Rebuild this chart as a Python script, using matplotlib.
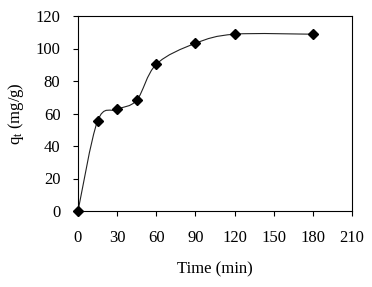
"""Adsorption kinetics: q_t vs time"""
import numpy as np, matplotlib
matplotlib.use('Agg')
import matplotlib.pyplot as plt
from matplotlib.path import Path
from matplotlib.patches import PathPatch

plt.rcParams.update({'font.family': 'Liberation Serif', 'font.size': 12,
                     'axes.linewidth': 0.8, 'mathtext.fontset': 'custom',
                     'mathtext.rm': 'Liberation Serif', 'mathtext.it': 'Liberation Serif'})

time_min = [0, 15, 30, 45, 60, 90, 120, 180]
qt = [0, 55.4, 62.5, 68.2, 90.3, 103.2, 108.8, 108.8]
x_ticks = [0, 30, 60, 90, 120, 150, 180, 210]
y_ticks = [0, 20, 40, 60, 80, 100, 120]

fig = plt.figure(figsize=(3.72, 2.87), dpi=100, facecolor='white')
ax = fig.add_axes([78/372, 1-211/287, 274/372, 195/287])

# smoothed line (Catmull-Rom style bezier, like a spreadsheet "smoothed line")
pts = np.column_stack([time_min, qt]).astype(float)
verts = [pts[0]]; codes = [Path.MOVETO]
n = len(pts)
for i in range(n-1):
    p0 = pts[i-1] if i > 0 else pts[i]
    p1, p2 = pts[i], pts[i+1]
    p3 = pts[i+2] if i+2 < n else pts[i+1]
    c1 = p1 + (p2 - p0)/6
    c2 = p2 - (p3 - p1)/6
    verts += [c1, c2, p2]; codes += [Path.CURVE4]*3
ax.add_patch(PathPatch(Path(verts, codes), fc='none', ec='#222222', lw=0.8, clip_on=False))

ax.plot(time_min, qt, ls='none', marker='D', ms=5, color='black', clip_on=False, zorder=3)

ax.set_xlim(0, 210); ax.set_ylim(0, 120)
ax.set_xticks(x_ticks); ax.set_yticks(y_ticks)
ax.tick_params(direction='out', length=3.6, width=0.8, colors='black')
ax.tick_params(axis='x', pad=10)
ax.tick_params(axis='y', pad=9)
ax.set_xlabel('Time (min)', labelpad=11)
ax.set_ylabel(r'q$_\mathrm{t}$ (mg/g)', labelpad=7)

fig.savefig('out.png', dpi=100, facecolor='white')
